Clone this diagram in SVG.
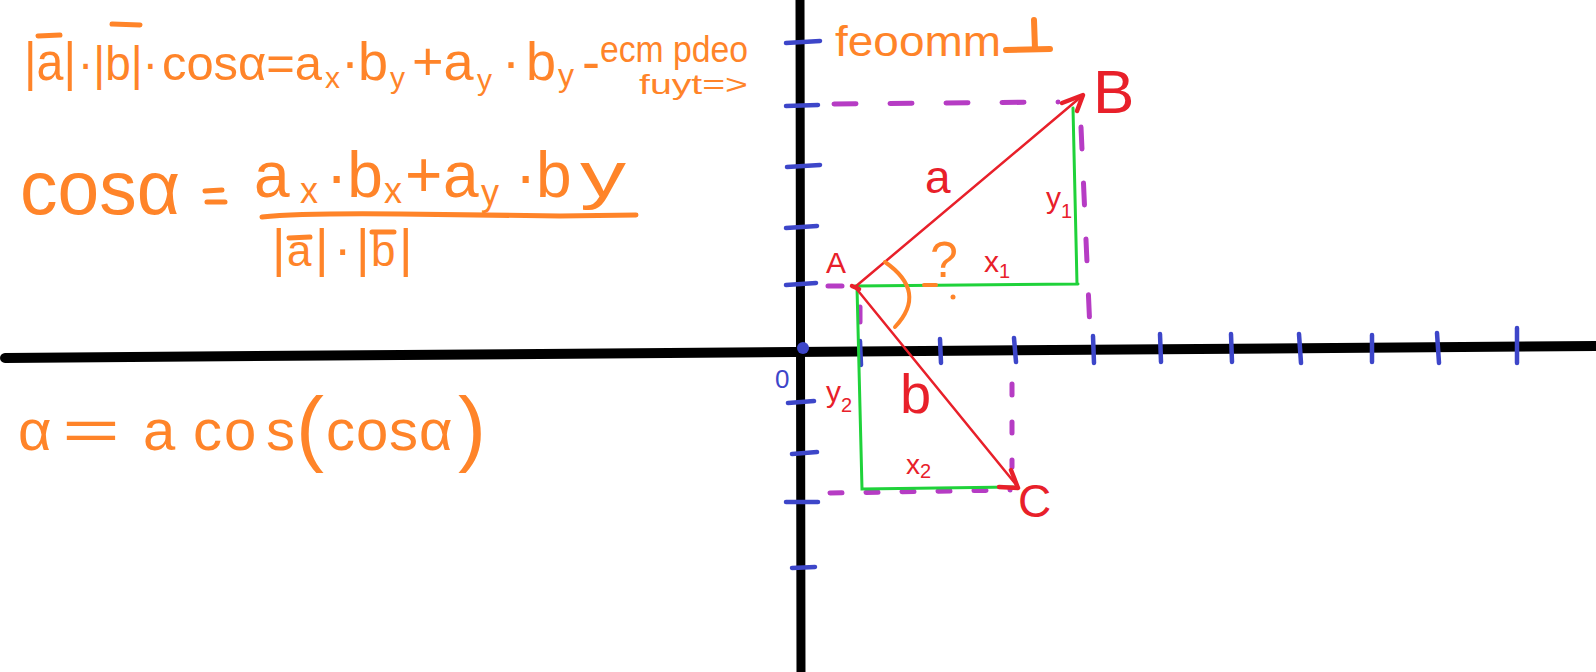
<svg xmlns="http://www.w3.org/2000/svg" width="1596" height="672" viewBox="0 0 1596 672">
<style>
.ax{stroke:#000;stroke-width:10;stroke-linecap:round;fill:none}
.tk{stroke:#3d46c9;stroke-width:4.5;stroke-linecap:round;fill:none}
.vec{stroke:#e8202a;stroke-width:2.5;fill:none;stroke-linecap:round}
.head{stroke:#e8202a;stroke-width:4.5;fill:none;stroke-linecap:round;stroke-linejoin:round}
.grn{stroke:#1fd23a;stroke-width:3;fill:none;stroke-linecap:round}
.pd{stroke:#b63cc4;stroke-width:5;fill:none;stroke-linecap:round;stroke-dasharray:22 34}
.or{fill:#ff8429;font-family:"Liberation Sans",Arial,sans-serif}
.ors{stroke:#ff8429;stroke-width:5;fill:none;stroke-linecap:round}
.rd{fill:#e8202a;font-family:"Liberation Sans",Arial,sans-serif}
.bl{fill:#3d46c9;font-family:"Liberation Sans",Arial,sans-serif}
</style>
<rect width="1596" height="672" fill="#fff"/>
<g id="axes">
<path class="ax" d="M5,358 L1596,346"/>
<path class="ax" d="M800,0 L801,672" style="stroke-width:9"/>
<circle cx="803" cy="348" r="6" fill="#3d46c9"/>
</g>
<g id="ticks">
<path class="tk" d="M786,43 L820,41 M786,106 L818,105 M787,167 L820,165 M786,228 L817,226 M786,285 L816,283 M788,403 L814,401 M792,454 L817,452 M786,502 L818,502 M792,568 L815,567"/>
<path class="tk" d="M860,341 L861,365 M940,339 L941,363 M1014,338 L1016,362 M1093,336 L1094,363 M1160,334 L1161,362 M1231,334 L1232,362 M1299,334 L1301,363 M1372,335 L1372,362 M1437,333 L1439,363 M1517,328 L1517,363"/>
</g>
<g id="connectors">
<path class="pd" d="M834,104 L1058,102"/>
<path class="pd" d="M1081,127 L1090,330"/>
<path class="pd" d="M828,286 L842,286 M860,307 L860,322"/>
<path class="pd" d="M1012,384 L1012,467" style="stroke-dasharray:11 27"/>
<path class="pd" d="M830,493 L1010,490" style="stroke-dasharray:12 24"/>
<path class="grn" d="M855,286 L1078,284 M1073,108 L1077,284 M857,287 L862,489 L1013,487"/>
<path class="vec" d="M855,287 L1082,96"/>
<path class="head" d="M1062,103 L1083,95 L1077,111"/>
<path class="vec" d="M855,287 L1018,487"/>
<path class="head" d="M1011,470 L1018,488 L999,487"/>
<path class="head" d="M852,286 L859,289"/>
</g>
<g id="label-A"><text class="rd" x="826" y="273" font-size="30">A</text></g>
<g id="label-B"><text class="rd" x="1093" y="113" font-size="62">B</text></g>
<g id="label-C"><text class="rd" x="1018" y="517" font-size="46">C</text></g>
<g id="label-a"><text class="rd" x="925" y="193" font-size="46">a</text></g>
<g id="label-b"><text class="rd" x="900" y="413" font-size="56">b</text></g>
<g id="label-y1"><text class="rd" x="1046" y="208" font-size="30">y<tspan font-size="20" dy="10">1</tspan></text></g>
<g id="label-x1"><text class="rd" x="984" y="272" font-size="30">x<tspan font-size="20" dy="6">1</tspan></text></g>
<g id="label-y2"><text class="rd" x="826" y="402" font-size="30">y<tspan font-size="20" dy="10">2</tspan></text></g>
<g id="label-x2"><text class="rd" x="906" y="474" font-size="28">x<tspan font-size="20" dy="4">2</tspan></text></g>
<g id="label-0"><text class="bl" x="775" y="388" font-size="26">0</text></g>
<g id="angle">
<path class="ors" d="M885,262 Q928,292 895,327" style="stroke-width:4"/>
<text class="or" x="930" y="277" font-size="50">?</text>
<path class="ors" d="M924,285 L936,285" style="stroke-width:4"/>
<circle cx="953" cy="297" r="2.5" fill="#ff8429"/>
</g>
<g id="formula-1">
<text class="or" y="80" font-size="54"><tspan x="24" textLength="52" lengthAdjust="spacingAndGlyphs">|a|</tspan><tspan x="78" font-size="48" textLength="80" lengthAdjust="spacingAndGlyphs">·|b|·</tspan><tspan x="162" font-size="48" textLength="160" lengthAdjust="spacingAndGlyphs">cosα=a</tspan><tspan x="325" font-size="30" dy="8">x</tspan><tspan x="341" dy="-8">·</tspan><tspan x="358">b</tspan><tspan x="390" font-size="30" dy="8">y</tspan><tspan x="412" dy="-8">+a</tspan><tspan x="477" font-size="30" dy="10">y</tspan><tspan x="502" dy="-10">·</tspan><tspan x="526">b</tspan><tspan x="558" font-size="32" dy="6">y</tspan><tspan x="582" dy="-6">-</tspan></text>
<text class="or" x="600" y="62" font-size="36" textLength="148" lengthAdjust="spacingAndGlyphs">ecm pdeo</text>
<text class="or" x="639" y="94" font-size="28" textLength="109" lengthAdjust="spacingAndGlyphs">fuyt=&gt;</text>
<path class="ors" d="M38,36 L60,35 M112,24 L140,25"/>
</g>
<g id="note-top">
<text class="or" x="835" y="56" font-size="42" textLength="166" lengthAdjust="spacingAndGlyphs">feoomm</text>
<path class="ors" d="M1006,50 L1050,49 M1034,20 L1035,49" style="stroke-width:6"/>
</g>
<g id="formula-2">
<text class="or" x="20" y="214" font-size="76" textLength="160" lengthAdjust="spacingAndGlyphs">cosα</text>
<path class="ors" d="M205,191 L222,190 M207,202 L225,202"/>
<text class="or" y="197" font-size="64"><tspan x="254">a</tspan><tspan x="300" font-size="36" dy="6">x</tspan><tspan x="326" dy="-6">·b</tspan><tspan x="384" font-size="36" dy="6">x</tspan><tspan x="405" dy="-6">+</tspan><tspan x="443">a</tspan><tspan x="481" font-size="36" dy="8">y</tspan><tspan x="515" dy="-8">·</tspan><tspan x="536">b</tspan><tspan x="580" textLength="46" lengthAdjust="spacingAndGlyphs">y</tspan></text>
<path class="ors" d="M262,217 Q300,213 400,214 T560,216 L636,215"/>
<text class="or" y="266" font-size="52"><tspan x="272">|</tspan><tspan x="287" font-size="44">a</tspan><tspan x="315">|</tspan><tspan x="334">·</tspan><tspan x="356">|</tspan><tspan x="371" font-size="44">b</tspan><tspan x="399">|</tspan></text>
<path class="ors" d="M289,238 L310,237 M372,232 L394,232"/>
</g>
<g id="formula-3">
<text class="or" y="450" font-size="58"><tspan x="18">α</tspan><tspan x="62" textLength="58" lengthAdjust="spacingAndGlyphs">=</tspan><tspan x="143 193 224 266">acos</tspan><tspan x="296" font-size="84" dy="6">(</tspan><tspan x="326 356 389 419" dy="-6">cosα</tspan><tspan x="458" font-size="84" dy="6">)</tspan></text>
</g>
</svg>
